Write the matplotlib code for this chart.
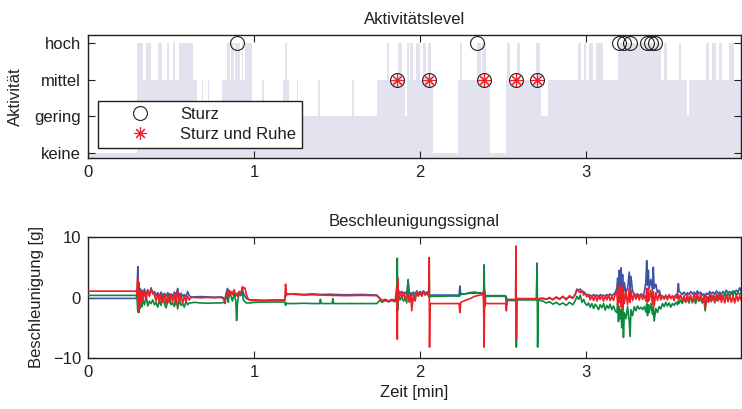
import numpy as np
import matplotlib
matplotlib.use("Agg")
import matplotlib.pyplot as plt

plt.rcParams['font.family'] = ['Liberation Sans', 'DejaVu Sans']
plt.rcParams['font.size'] = 12

INK = '#231f20'

# ---------------- Aktivitätslevel (Stufen, Wechselzeitpunkte in min) ----------------
stufen_namen = ['keine', 'gering', 'mittel', 'hoch']
aktiv_t = [0.000, 0.297, 0.329, 0.347, 0.380, 0.424, 0.444, 0.478, 0.490, 0.514,
           0.524, 0.550, 0.631, 0.655, 0.685, 0.695, 0.721, 0.731, 0.805, 0.835,
           0.855, 0.862, 0.880, 0.885, 0.916, 0.925, 0.935, 0.945, 0.986, 1.046,
           1.060, 1.175, 1.187, 1.200, 1.210, 1.257, 1.267, 1.386, 1.400, 1.588,
           1.600, 1.739, 1.800, 1.810, 1.866, 1.890, 1.910, 1.920, 1.935, 1.940,
           1.955, 1.975, 2.000, 2.020, 2.035, 2.045, 2.065, 2.080, 2.230, 2.240,
           2.255, 2.340, 2.370, 2.375, 2.400, 2.420, 2.520, 2.525, 2.540, 2.585,
           2.600, 2.700, 2.720, 2.730, 2.770, 2.950, 2.970, 2.990, 3.000, 3.020,
           3.040, 3.060, 3.100, 3.190, 3.450, 3.470, 3.485, 3.560, 3.570, 3.610,
           3.617, 3.720, 3.740, 3.760, 3.780, 3.800, 3.820, 3.860, 3.890, 3.930]
aktiv_stufe = [0, 3, 2, 3, 2, 3, 2, 3, 2, 3,
               2, 3, 2, 1, 2, 1, 2, 1, 2, 3,
               2, 3, 2, 3, 2, 3, 2, 3, 1, 2,
               1, 2, 3, 2, 1, 2, 1, 2, 1, 2,
               1, 2, 3, 2, 3, 2, 1, 3, 2, 3,
               2, 3, 2, 3, 2, 3, 2, 0, 2, 3,
               2, 3, 2, 3, 2, 0, 2, 3, 2, 3,
               2, 3, 2, 1, 2, 3, 2, 3, 2, 3,
               2, 3, 2, 3, 2, 3, 2, 3, 2, 1,
               2, 3, 2, 3, 2, 3, 2, 3, 2, 2]

# Erkannte Stürze (Zeit in min, Aktivitätsstufe)
sturz_t = [0.900, 1.863, 2.056, 2.345, 2.386, 2.578, 2.703,
           3.200, 3.229, 3.265, 3.366, 3.390, 3.416]
sturz_stufe = [3, 2, 2, 3, 2, 2, 2, 3, 3, 3, 3, 3, 3]
# Stürze mit anschließender Ruhephase
ruhe_t = [1.863, 2.056, 2.386, 2.578, 2.703]
ruhe_stufe = [2, 2, 2, 2, 2]

# ---------------- Beschleunigungssignal (Zeit in min, Werte in g) ----------------
zeit = [0.000, 0.290,
        0.295, 0.300, 0.303, 0.306, 0.310, 0.315, 0.320, 0.325, 0.330, 0.340,
        0.350, 0.360, 0.370, 0.380, 0.390, 0.400, 0.410, 0.420, 0.430, 0.440,
        0.450, 0.460, 0.470, 0.480, 0.490, 0.500, 0.510, 0.520, 0.530, 0.540,
        0.550, 0.560, 0.570, 0.580, 0.590, 0.600, 0.610, 0.620,
        0.640, 0.680, 0.720, 0.760, 0.800, 0.815,
        0.825, 0.830, 0.840, 0.845, 0.850, 0.860, 0.870, 0.880, 0.890, 0.895,
        0.900, 0.910, 0.920, 0.930, 0.935, 0.945, 0.955, 0.965, 0.980,
        1.000, 1.060, 1.120, 1.185, 1.190, 1.195,
        1.200, 1.250, 1.300, 1.350, 1.395, 1.400, 1.405, 1.470, 1.475, 1.480,
        1.550, 1.650, 1.740,
        1.760, 1.770, 1.790, 1.810, 1.830, 1.850,
        1.860, 1.863, 1.866, 1.870,
        1.880, 1.890, 1.900, 1.910, 1.920, 1.928, 1.935, 1.945, 1.950, 1.960,
        1.970, 1.980, 1.990, 2.000, 2.010, 2.020, 2.030, 2.045,
        2.052, 2.055, 2.057, 2.060,
        2.100, 2.200, 2.235, 2.240, 2.245,
        2.270, 2.300, 2.330, 2.360, 2.380,
        2.383, 2.386, 2.389, 2.395,
        2.450, 2.515, 2.520, 2.525,
        2.550, 2.575, 2.578, 2.580, 2.583,
        2.640, 2.700, 2.705, 2.708, 2.712,
        2.740, 2.760, 2.780, 2.800, 2.820, 2.840, 2.860, 2.880, 2.900, 2.920,
        2.935, 2.945, 2.955, 2.965, 2.975, 2.985, 2.995, 3.005, 3.015,
        3.025, 3.035, 3.045, 3.055, 3.065, 3.075, 3.085, 3.095, 3.105, 3.115,
        3.125, 3.135, 3.145, 3.155, 3.165, 3.175,
        3.185, 3.190, 3.195, 3.200, 3.205, 3.210, 3.215, 3.220, 3.225, 3.230,
        3.240, 3.250, 3.260, 3.265, 3.270, 3.280, 3.290, 3.300, 3.310, 3.320,
        3.330, 3.340, 3.350, 3.360,
        3.365, 3.370, 3.375, 3.380, 3.390, 3.400, 3.405, 3.410, 3.420, 3.430,
        3.440, 3.450,
        3.460, 3.470, 3.480, 3.490, 3.500, 3.510, 3.520, 3.530, 3.540, 3.550,
        3.556, 3.560,
        3.570, 3.580, 3.590, 3.600, 3.610, 3.620, 3.630, 3.640, 3.650, 3.660,
        3.670, 3.680, 3.690, 3.700, 3.710, 3.717, 3.725, 3.735, 3.745, 3.755,
        3.765, 3.775, 3.785, 3.795, 3.805, 3.815, 3.825, 3.835, 3.845, 3.855,
        3.865, 3.875, 3.885, 3.895, 3.905, 3.915, 3.925, 3.935]

acc_x = [-0.15, -0.15,
         0.2, 5.1, -1.5, 2.0, -0.5, 1.5, 0.2, 1.2, 0.3, 1.4,
         0.5, 1.2, 0.4, 1.6, 0.6, 1.0, 0.3, 0.8, 0.2, 0.9,
         0.3, 0.7, 0.2, 0.8, 0.3, 0.6, 0.2, 0.9, 0.4, 1.5,
         0.2, 0.7, 0.2, 0.5, 0.1, 1.0, 0.3, 0.1,
         0.1, 0.15, 0.1, 0.05, 0.1, 0.0,
         -0.6, 0.5, 1.5, 0.6, 1.2, 0.5, 0.9, 0.4, 0.7, 0.4,
         0.6, 0.9, 0.5, 1.4, 0.8, 0.2, -0.2, -0.3, -0.4,
         -0.4, -0.45, -0.4, -0.4, 0.3, 0.4,
         0.5, 0.6, 0.5, 0.6, 0.5, 0.5, 0.5, 0.55, 0.5, 0.5,
         0.45, 0.5, 0.4,
         -0.2, -0.5, -0.3, -0.6, -0.3, -0.5,
         0.3, 1.0, 0.2, 1.2,
         0.6, 1.0, 0.4, 0.9, 0.5, 2.8, 0.6, 0.8, 0.3, 0.9,
         0.5, 1.1, 0.6, 1.0, 0.7, 1.1, 0.8, 0.9,
         0.5, 0.4, 0.4, 0.4,
         0.4, 0.4, 0.4, 1.9, 0.6,
         0.6, 0.7, 0.7, 0.8, 0.7,
         0.8, 2.3, 0.6, 0.3,
         0.3, 0.3, 0.0, -0.3,
         -0.4, -0.4, -0.3, -0.3, -0.2,
         -0.2, -0.2, -0.2, -0.2, -0.2,
         -0.1, -0.3, -0.1, -0.3, 0.0, -0.2, 0.1, -0.2, 0.1, -0.1,
         0.6, 1.4, 1.2, 1.4, 0.9, 1.0, 0.6, 0.5, 0.3,
         0.4, 0.1, 0.5, 0.2, 0.4, 0.1, 0.5, 0.2, 0.4, 0.1,
         0.5, 0.2, 0.6, 0.3, 0.5, 0.8,
         1.5, 3.2, 1.0, 4.5, 2.0, 4.9, 1.5, 3.8, 1.0, 2.5,
         0.8, 1.5, 4.2, 1.2, 3.5, 1.0, 0.6, 0.4, 0.6, 0.3,
         0.5, 0.4, 0.8, 2.5,
         6.1, 2.0, 4.5, 1.5, 3.0, 1.2, 5.0, 1.5, 2.2, 0.8,
         1.2, 0.3,
         0.2, -0.1, 0.3, 0.0, 0.3, -0.1, 0.2, 0.0, 0.4, 0.6,
         2.3, 1.0,
         0.8, 0.5, 0.9, 0.4, 0.8, 0.5, 1.0, 0.6, 0.9, 0.5,
         1.1, 0.6, 0.9, 0.4, 0.6, 0.0, 0.7, 0.5, 1.0, 0.6,
         0.9, 0.5, 1.1, 0.6, 0.9, 0.5, 1.0, 0.6, 1.2, 0.7,
         1.0, 0.6, 1.1, 0.8, 1.2, 0.9, 1.6, 1.0]

acc_y = [0.35, 0.35,
         0.0, -2.4, 1.0, -2.5, 0.5, -1.8, 0.8, -1.5, -0.4, -1.2,
         0.2, -1.4, -0.6, -1.0, -0.4, -1.2, -0.8, -1.6, -0.5, -1.3,
         0.4, -1.0, -1.7, -0.7, 0.6, -1.2, -0.9, -1.5, 0.3, -1.9,
         -0.3, -1.3, -1.0, -1.6, -0.6, -1.2, -0.9, -0.9,
         -0.8, -0.9, -0.95, -0.9, -0.9, -0.8,
         -1.0, -0.2, 0.5, -0.8, 0.8, 0.3, -0.6, 0.6, -0.5, -3.8,
         -1.0, 0.7, 0.3, 0.8, -0.4, -0.7, -0.9, -0.9, -0.9,
         -0.8, -0.75, -0.75, -0.75, -1.3, -0.9,
         -1.0, -1.0, -0.95, -1.0, -1.0, -0.3, -1.0, -1.0, -0.2, -1.0,
         -1.0, -1.0, -1.0,
         -0.4, -0.8, -0.5, -0.7, -0.5, -0.7,
         1.0, 6.5, -2.0, 0.5,
         -0.4, 0.2, -0.6, -0.1, -0.9, 3.0, -0.5, 0.0, -0.8, -0.2,
         0.4, 0.8, 0.2, 0.9, 0.4, 0.9, 0.5, 0.6,
         0.2, 6.6, 0.0, 0.2,
         0.2, 0.25, 0.2, 0.3, 0.5,
         0.6, 0.8, 0.9, 0.7, 0.6,
         1.0, 5.4, -1.5, 0.2,
         0.2, 0.2, -1.2, -0.5,
         -0.5, -0.5, -0.5, -8.2, -0.4,
         -0.4, -0.4, 5.7, -8.2, -0.4,
         -0.6, -0.9, -0.7, -1.1, -0.8, -1.2, -0.9, -1.3, -0.8, -1.2,
         -0.5, 0.2, -0.3, 0.4, -0.8, -0.3, -1.0, -1.3, -0.9,
         -1.6, -1.0, -1.8, -1.1, -1.5, -2.0, -1.2, -1.7, -1.0, -2.1,
         -1.3, -1.8, -1.1, -2.0, -1.4, -2.2,
         -2.5, -1.0, -4.0, -1.5, -3.5, -2.0, -5.0, -1.0, -6.6, -2.5,
         -3.5, -1.5, -4.0, -6.4, -2.0, -3.0, -1.5, -2.2, -1.4, -1.9,
         -1.6, -2.0, -1.5, -2.4,
         -1.0, -3.0, -1.2, -2.5, -1.0, -2.8, -1.5, -3.9, -1.8, -2.5,
         -1.5, -1.9,
         -1.0, -1.5, -0.8, -1.4, -0.9, -1.6, -1.0, -1.3, -0.8, -1.2,
         -0.5, -1.0,
         -0.4, -1.0, 0.0, -0.8, -0.2, -0.9, 0.1, -0.7, -0.3, -1.0,
         0.0, -0.6, -0.2, -0.9, -0.3, -2.2, -0.4, 0.1, -0.6, 0.3,
         -0.4, 0.2, -0.5, 0.4, -0.3, 0.5, -0.2, 0.7, 0.0, 0.8,
         0.1, 0.9, 0.3, 1.0, 0.4, 0.8, 0.5, 0.9]

acc_z = [1.05, 1.05,
         0.5, 3.3, -2.2, 2.5, -1.5, 1.2, -0.8, 0.9, -0.5, 1.0,
         -0.4, 1.3, 0.2, 1.4, 0.8, 0.4, -0.6, 0.7, -0.9, 0.5,
         -0.8, 0.6, -1.0, 0.4, -0.9, 0.5, -0.7, 0.6, -1.2, 1.2,
         -0.8, 0.4, -1.0, 0.3, -0.7, 0.2, -0.4, 0.0,
         0.0, -0.05, 0.0, -0.05, 0.0, -0.2,
         -0.8, 0.3, 0.8, 1.2, 0.2, 1.0, 0.5, 1.3, 0.3, 0.6,
         0.2, 1.0, 0.6, 1.8, 1.5, 1.6, 0.4, -0.3, -0.5,
         -0.5, -0.55, -0.5, -0.5, 2.2, 0.5,
         0.6, 0.5, 0.4, 0.45, 0.4, 0.4, 0.4, 0.35, 0.3, 0.35,
         0.3, 0.35, 0.3,
         -0.3, -0.6, -0.4, -0.7, -0.4, -0.6,
         2.0, -6.9, 3.2, -0.5,
         0.9, 0.0, 0.8, -0.4, 0.6, 0.3, -0.8, 0.5, -2.2, 0.4,
         -0.6, 0.9, 0.3, 0.8, 0.2, 0.9, 0.4, 0.7,
         0.5, 6.5, -8.2, -1.0,
         -1.0, -1.0, -1.0, -2.5, -0.8,
         -0.5, -0.2, 0.2, 0.4, 0.5,
         -1.5, -8.2, 1.0, -1.0,
         -1.0, -1.0, -2.2, -0.4,
         -0.3, -0.35, 8.5, -6.9, -0.2,
         -0.2, -0.2, -0.2, -0.2, -0.2,
         -0.2, -0.3, 0.0, -0.4, 0.1, -0.3, 0.2, -0.4, 0.3, -0.1,
         0.5, 1.3, 1.0, 0.8, 1.1, 0.4, 0.7, 0.1, 0.5,
         -0.4, 0.3, -0.5, 0.4, -0.6, 0.2, -0.3, 0.4, -0.6, 0.3,
         -0.4, 0.4, -0.5, 0.2, -0.5, 0.5,
         1.0, -1.2, 1.8, -0.8, 2.0, -1.5, 1.5, -2.0, 1.0, -1.0,
         0.8, -1.2, 1.5, -0.8, 1.2, -0.5, 0.6, -0.3, 0.5, -0.4,
         0.6, -0.3, 0.4, -0.6,
         1.5, -0.8, 1.6, -0.5, 1.2, -1.2, 1.0, -1.4, 0.8, -0.5,
         0.6, -0.4,
         0.3, -0.3, 0.4, -0.4, 0.5, -0.2, 0.3, -0.5, 0.4, -0.2,
         0.5, -0.3,
         0.4, -0.6, 0.3, -0.8, 0.5, -0.5, 0.4, -0.9, 0.6, -0.4,
         0.7, -0.6, 0.5, -0.7, 0.3, -1.8, 0.2, -0.8, 0.6, -0.7,
         0.4, -0.9, 0.5, -0.6, 0.7, -0.8, 0.3, -0.9, 0.5, -0.7,
         0.4, -0.8, 0.2, -0.9, 0.5, -0.6, 0.3, -0.5]

farbe_x = '#3a55a5'
farbe_y = '#0b8a3e'
farbe_z = '#ec2027'
farbe_flaeche = '#e3e3ef'

W, H = 742, 409
fig = plt.figure(figsize=(W / 100, H / 100), dpi=100)

x_left, x_right = 88, 740.5
ax1 = fig.add_axes([x_left / W, 1 - 158 / H, (x_right - x_left) / W, 123 / H])
ax2 = fig.add_axes([x_left / W, 1 - 358 / H, (x_right - x_left) / W, 121 / H])

t_max = 3.93
y1_lo, y1_hi = -0.136, 3.218


def style_axes(ax):
    for s in ax.spines.values():
        s.set_color(INK)
        s.set_linewidth(1.0)
    ax.tick_params(direction='in', length=5, width=0.8, colors=INK,
                   top=True, right=True, labelsize=12, pad=5)
    ax.set_xlim(0, t_max)
    ax.set_xticks([0, 1, 2, 3])


# --- oberes Diagramm: Aktivität ---
style_axes(ax1)
ax1.fill_between(aktiv_t, y1_lo - 1, aktiv_stufe, step='post',
                 color=farbe_flaeche, linewidth=0, zorder=1)
ax1.set_ylim(y1_lo, y1_hi)
ax1.set_yticks([0, 1, 2, 3])
ax1.set_yticklabels(stufen_namen)
ax1.plot(sturz_t, sturz_stufe, linestyle='none', marker='o', markersize=10,
         markerfacecolor='none', markeredgecolor=INK, markeredgewidth=0.8,
         label='Sturz', zorder=3, clip_on=False)
ax1.plot(ruhe_t, ruhe_stufe, linestyle='none', marker=(8, 2, 0), markersize=9,
         markeredgecolor=farbe_z, markerfacecolor=farbe_z, markeredgewidth=0.8,
         label='Sturz und Ruhe', zorder=4)
ax1.set_title('Aktivitätslevel', fontsize=12, color=INK, pad=8)
ax1.set_ylabel('Aktivität', fontsize=12, color=INK)
ax1.yaxis.set_label_coords(-0.099, 0.5)
leg = ax1.legend(loc='lower left', bbox_to_anchor=(0.0149, 0.081),
                 borderaxespad=0, fancybox=False, shadow=False, framealpha=1,
                 edgecolor=INK, handlelength=4.4, handletextpad=0.2,
                 borderpad=0.35, labelspacing=0.3, fontsize=12)
leg.get_frame().set_linewidth(1.0)
for txt in leg.get_texts():
    txt.set_color(INK)

# --- unteres Diagramm: Beschleunigung ---
style_axes(ax2)
ax2.plot(zeit, acc_x, color=farbe_x, linewidth=1.2, zorder=2)
ax2.plot(zeit, acc_y, color=farbe_y, linewidth=1.2, zorder=3)
ax2.plot(zeit, acc_z, color=farbe_z, linewidth=1.2, zorder=4)
ax2.set_ylim(-10, 10)
ax2.set_yticks([-10, 0, 10])
ax2.set_yticklabels(['\u221210', '0', '10'])
ax2.set_title('Beschleunigungssignal', fontsize=12, color=INK, pad=8)
ax2.set_ylabel('Beschleunigung [g]', fontsize=12, color=INK)
ax2.yaxis.set_label_coords(-0.067, 0.5)
ax2.set_xlabel('Zeit [min]', fontsize=12, color=INK, labelpad=4)

fig.savefig('out.png', dpi=100)
